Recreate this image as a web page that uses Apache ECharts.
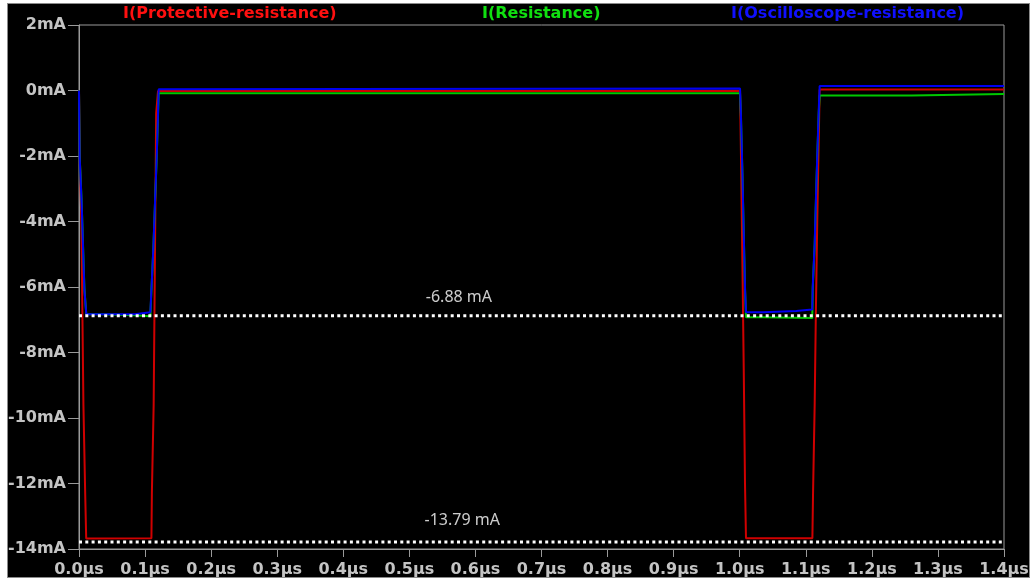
<!DOCTYPE html>
<html>
<head>
<meta charset="utf-8">
<script src="https://cdn.jsdelivr.net/npm/echarts@6/dist/echarts.min.js"></script>
<style>
  html, body { margin: 0; padding: 0; background: #ffffff; }
  #frame { position: absolute; left: 7px; top: 3px; width: 1021px; height: 573px; background: #000000; border: 1px solid #8a8a8a; }
  #chart { position: absolute; left: 0; top: 0; width: 1033px; height: 580px; }
</style>
</head>
<body>
<div id="frame"></div>
<div id="chart"></div>
<script>
// Trace names (LTspice style current probes)
const seriesNames = ['I(Protective-resistance)', 'I(Resistance)', 'I(Oscilloscope-resistance)'];

// Axis tick labels
const xTickLabels = ['0.0µs','0.1µs','0.2µs','0.3µs','0.4µs','0.5µs','0.6µs','0.7µs','0.8µs','0.9µs','1.0µs','1.1µs','1.2µs','1.3µs','1.4µs'];
const yTickLabels = ['-14mA','-12mA','-10mA','-8mA','-6mA','-4mA','-2mA','0mA','2mA'];

// Currents in mA versus time in µs
const protectiveCurrent = [
  [0, 0], [0.001, -1.82], [0.0036, -4.04], [0.0067, -9.6], [0.0094, -12.34], [0.0109, -13.68],
  [0.1096, -13.67], [0.1103, -12.3], [0.113, -9.6], [0.1168, -0.7], [0.1196, -0.015],
  [1.0005, -0.01], [1.002, -2.1], [1.0041, -5.3], [1.0061, -8.5], [1.008, -12.0], [1.0095, -13.67],
  [1.110, -13.67], [1.111, -12.28], [1.1135, -9.54], [1.1153, -6.7], [1.1173, -4.04], [1.1196, -1.5],
  [1.121, 0.03], [1.4, 0.03]
];
const resistanceCurrent = [
  [0, 0], [0.001, -2.0], [0.004, -3.4], [0.0082, -6.05], [0.011, -6.83], [0.0354, -6.83], [0.0354, -6.86],
  [0.0843, -6.86], [0.0843, -6.89], [0.108, -6.89], [0.1096, -6.1], [0.1126, -4.8], [0.115, -3.45],
  [0.1176, -2.05], [0.1196, -0.75], [0.1206, -0.085], [1.0005, -0.085], [1.002, -0.9], [1.0041, -2.55],
  [1.006, -4.3], [1.008, -6.05], [1.0095, -6.92], [1.0355, -6.92], [1.0355, -6.95], [1.1098, -6.95],
  [1.1105, -6.05], [1.1135, -4.7], [1.1153, -3.4], [1.1173, -2.08], [1.1196, -0.7], [1.121, -0.15],
  [1.26, -0.15], [1.26, -0.11], [1.4, -0.11]
];
const oscilloscopeCurrent = [
  [0, 0], [0.001, -2.03], [0.004, -3.43], [0.0082, -6.09], [0.011, -6.83], [0.0843, -6.83], [0.0843, -6.77],
  [0.108, -6.77], [0.1096, -6.09], [0.1126, -4.77], [0.115, -3.43], [0.1176, -2.03], [0.1196, -0.69],
  [0.1206, 0.04], [1.0005, 0.06], [1.002, -0.84], [1.0041, -2.52], [1.006, -4.26], [1.008, -6.0],
  [1.0095, -6.77], [1.0355, -6.77], [1.0355, -6.73], [1.0855, -6.73], [1.0855, -6.69], [1.1098, -6.69],
  [1.1105, -6.0], [1.1135, -4.65], [1.1153, -3.34], [1.1173, -2.03], [1.1196, -0.6], [1.121, 0.14], [1.4, 0.14]
];

// Measured levels marked with dotted lines
const levelValues = [-6.88, -13.79];
const levelLabelTimes = [0.575, 0.58];

const traceColors = ['#d00000', '#00c800', '#0000f0'];
const titleColors = ['#ff1010', '#10e010', '#1010ff'];
const titleLefts = [123, 482, 731];
const axisGray = '#9a9a9a';
const labelGray = '#c4c4c4';

const chart = echarts.init(document.getElementById('chart'), null, { renderer: 'canvas' });

const traces = [protectiveCurrent, resistanceCurrent, oscilloscopeCurrent].map((d, i) => ({
  name: seriesNames[i],
  type: 'line',
  data: d,
  showSymbol: false,
  symbol: 'none',
  animation: false,
  lineStyle: { color: traceColors[i], width: 2 },
  z: 3 + i
}));

const levelLines = levelValues.map(v => ({
  type: 'line',
  data: [[0, v], [1.4, v]],
  symbol: 'none',
  animation: false,
  lineStyle: { color: '#ffffff', width: 3, type: [3, 3.3] },
  z: 10
}));

const levelLabels = levelValues.map((v, i) => ({
  type: 'scatter',
  data: [[levelLabelTimes[i], v]],
  symbolSize: 0,
  animation: false,
  label: {
    show: true,
    position: 'top',
    distance: i === 0 ? 10 : 14,
    formatter: () => v.toFixed(2) + ' mA',
    color: '#ffffff',
    fontFamily: 'Noto Sans',
    fontSize: 16
  },
  z: 11
}));

chart.setOption({
  backgroundColor: 'transparent',
  animation: false,
  title: seriesNames.map((n, i) => ({
    text: n,
    left: titleLefts[i],
    top: 6,
    padding: 0,
    textStyle: { color: titleColors[i], fontFamily: 'DejaVu Sans', fontWeight: 'bold', fontSize: 16 }
  })),
  grid: {
    left: 79, right: 29, top: 25, bottom: 31,
    show: true, borderColor: axisGray, borderWidth: 1, backgroundColor: 'transparent'
  },
  xAxis: {
    type: 'value', min: 0, max: 1.4, interval: 0.1,
    axisLine: { show: true, onZero: false, lineStyle: { color: axisGray, width: 1 } },
    axisTick: { show: true, inside: false, length: 8, lineStyle: { color: axisGray } },
    splitLine: { show: false },
    axisLabel: {
      margin: 13, color: labelGray, fontFamily: 'DejaVu Sans', fontWeight: 'bold', fontSize: 16,
      formatter: (v, idx) => xTickLabels[idx]
    }
  },
  yAxis: {
    type: 'value', min: -14, max: 2, interval: 2,
    axisLine: { show: true, onZero: false, lineStyle: { color: axisGray, width: 1 } },
    axisTick: { show: true, inside: false, length: 11, lineStyle: { color: axisGray } },
    splitLine: { show: false },
    axisLabel: {
      margin: 13, color: labelGray, fontFamily: 'DejaVu Sans', fontWeight: 'bold', fontSize: 16,
      formatter: (v, idx) => yTickLabels[idx]
    }
  },
  series: [...traces, ...levelLines, ...levelLabels]
});
</script>
</body>
</html>
